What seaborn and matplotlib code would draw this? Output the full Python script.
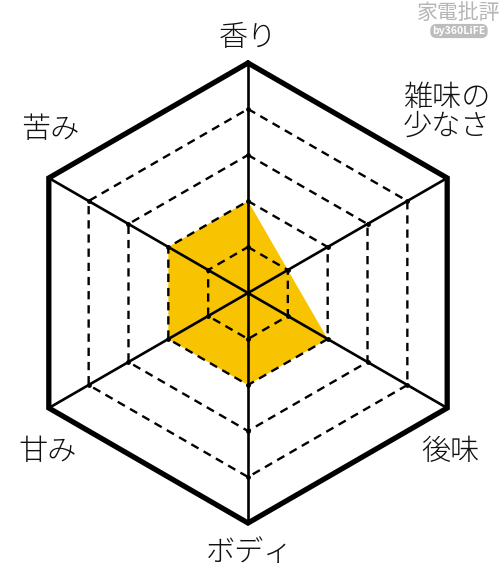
import numpy as np
import matplotlib
matplotlib.use("Agg")
import matplotlib.pyplot as plt
import seaborn as sns

# data
categories = ["香り", "雑味の\n少なさ", "後味", "ボディ", "甘み", "苦み"]
scores = [2, 1, 2, 2, 2, 2]
max_score = 5

sns.set_style("white")
plt.rcParams["font.family"] = ["Noto Sans CJK JP", "DejaVu Sans"]

W, H = 500, 583
fig = plt.figure(figsize=(W / 100, H / 100), dpi=100)
ax = fig.add_axes([0, 0, 1, 1])
ax.set_xlim(0, W)
ax.set_ylim(H, 0)
ax.axis("off")

cx, cy = 248, 293
step = 46
n = len(categories)
ang = np.deg2rad(-90 + 60 * np.arange(n))


def pts(r):
    r = np.asarray(r, dtype=float)
    x = cx + r * step * np.cos(ang)
    y = cy + r * step * np.sin(ang)
    return np.append(x, x[0]), np.append(y, y[0])


# filled score polygon
sx, sy = pts(scores)
ax.fill(sx, sy, color="#F8C300", zorder=1, linewidth=0)

# dashed level rings
for lv in range(1, max_score):
    x, y = pts([lv] * n)
    sns.lineplot(x=x, y=y, sort=False, estimator=None, errorbar=None, ax=ax,
                 color="black", lw=1.7, linestyle=(0, (3.5, 2.5)), zorder=2)
    ax.scatter(x[:-1], y[:-1], s=6, color="black", zorder=3)

# spokes
for i in range(n):
    ax.plot([cx, cx + max_score * step * np.cos(ang[i])],
            [cy, cy + max_score * step * np.sin(ang[i])],
            color="black", lw=1.9, zorder=3)

# outer ring
ox, oy = pts([max_score] * n)
ax.plot(ox, oy, color="black", lw=3.8, solid_joinstyle="miter", zorder=4)

# labels
lab_pos = [(248, 38, "center"), (403, 112, "left"), (450, 452, "center"),
           (250, 553, "center"), (48, 452, "center"), (50, 130, "center")]
for (lx, ly, ha), txt in zip(lab_pos, categories):
    ax.text(lx, ly, txt, ha=ha, va="center", fontsize=21, fontweight="light",
            linespacing=0.95, color="#111111")

# watermark
ax.text(459, 13, "家電批評", ha="center", va="center", fontsize=15,
        color="#b5b5b5")
ax.text(459, 31, "by360LiFE", ha="center", va="center", fontsize=7.5,
        color="white", fontweight="bold",
        bbox=dict(boxstyle="round,pad=0.2,rounding_size=0.6",
                  fc="#bdbdbd", ec="none"))

fig.savefig("out.png", dpi=100)
